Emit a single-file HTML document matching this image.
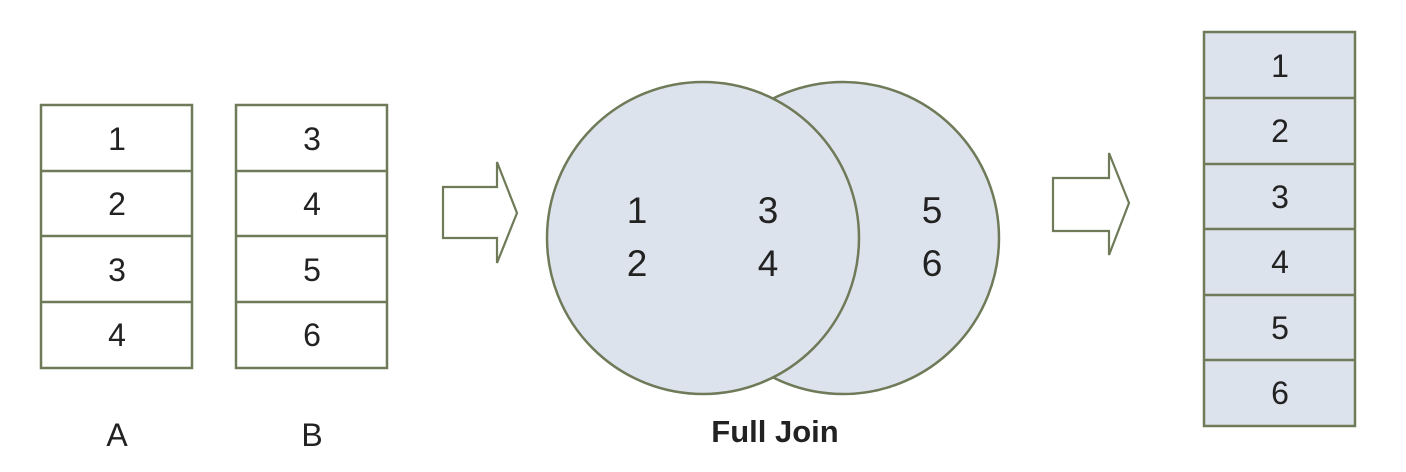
<!DOCTYPE html>
<html><head><style>
html,body{margin:0;padding:0;background:#fff;}
svg{display:block;}
text{font-family:"Liberation Sans",sans-serif;fill:#222;}
</style></head><body>
<svg width="1406" height="472" viewBox="0 0 1406 472" xmlns="http://www.w3.org/2000/svg">
<g stroke="#6e7a58" stroke-width="2.5" fill="#fff">
<rect x="41" y="105" width="151" height="263"/>
<line x1="41" y1="171" x2="192" y2="171"/><line x1="41" y1="236" x2="192" y2="236"/><line x1="41" y1="302" x2="192" y2="302"/>
<rect x="236" y="105" width="151" height="263"/>
<line x1="236" y1="171" x2="387" y2="171"/><line x1="236" y1="236" x2="387" y2="236"/><line x1="236" y1="302" x2="387" y2="302"/>
<polygon points="443,187 497,187 497,162 517,213 497,263 497,238 443,238" stroke-width="2.2"/>
<polygon points="1053,178 1109,178 1109,153 1129,203 1109,255 1109,231 1053,231" stroke-width="2.2"/>
<circle cx="843" cy="238" r="156" fill="#dde3ec"/>
<circle cx="703" cy="238" r="156" fill="#dde3ec"/>
<rect x="1204" y="32" width="151" height="394" fill="#dde3ec"/>
<line x1="1204" y1="98" x2="1355" y2="98"/><line x1="1204" y1="164" x2="1355" y2="164"/><line x1="1204" y1="229" x2="1355" y2="229"/><line x1="1204" y1="295" x2="1355" y2="295"/><line x1="1204" y1="360" x2="1355" y2="360"/>
</g>
<g font-size="32" text-anchor="middle">
<text x="117" y="150">1</text><text x="117" y="215">2</text><text x="117" y="281">3</text><text x="117" y="346">4</text>
<text x="312" y="150">3</text><text x="312" y="215">4</text><text x="312" y="281">5</text><text x="312" y="346">6</text>
<text x="117" y="446">A</text><text x="312" y="446">B</text>
<text x="1280" y="77">1</text><text x="1280" y="142">2</text><text x="1280" y="208">3</text><text x="1280" y="273">4</text><text x="1280" y="339">5</text><text x="1280" y="404">6</text>
</g>
<g font-size="37" text-anchor="middle">
<text x="637" y="223">1</text><text x="637" y="276">2</text>
<text x="768" y="223">3</text><text x="768" y="276">4</text>
<text x="932" y="223">5</text><text x="932" y="276">6</text>
</g>
<text x="775" y="442" font-size="31" font-weight="bold" text-anchor="middle" fill="#111">Full Join</text>
</svg>
</body></html>
